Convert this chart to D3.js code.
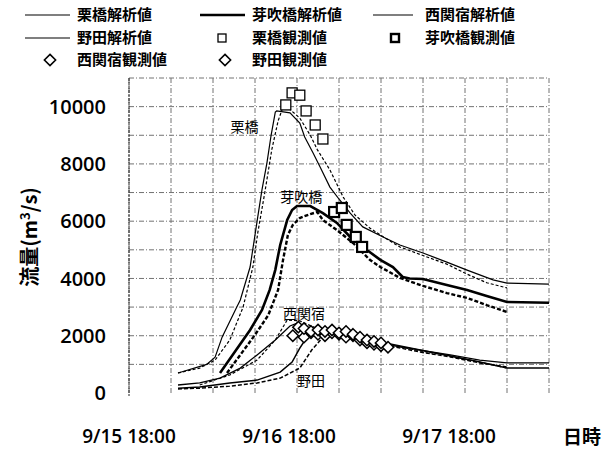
<!DOCTYPE html>
<html>
<head>
<meta charset="utf-8">
<script src="https://cdn.jsdelivr.net/npm/d3@7"></script>
<style>
  body { margin: 0; background: #fff; }
  text { fill: #000; }
</style>
</head>
<body>
<svg id="chart" width="607" height="457"></svg>
<script>
/**
 * @Data  (hours from 9/15 18:00, discharge m3/s)
 */
const kuriCalc    = [[7,700],[11.1,1000],[12.3,1250],[13.3,1950],[15.4,3000],[15.9,3250],[17.3,4400],[18.3,6000],[19,7100],[19.7,8030],[20.3,9000],[20.9,9810],[21.1,9850],[23,9780],[24.4,9430],[25.1,8940],[26.3,8380],[27.3,7890],[28.7,7190],[30.1,6740],[31.6,6280],[33.4,5800],[36.3,5450],[38.7,5170],[42,4890],[45.4,4570],[48.3,4290],[52,3950],[54,3840],[60,3800]]
const kuriCalc2   = [[7,700],[10.1,870],[12.3,1150],[14.4,1850],[16.3,3000],[17.7,4400],[18.4,5600],[19.4,7000],[20.4,8500],[21.3,9500],[22,9990],[23,9900],[24.4,9600],[25.9,9000],[26.9,8500],[28.7,7790],[30.6,6840],[32.3,6210],[34.4,5760],[36.6,5410],[38.7,5100],[42,4800],[45.4,4500],[48.3,4150],[51.1,3850],[54,3670]]
const fukiCalc    = [[13,700],[15.1,1430],[17.3,2200],[19,2900],[20.1,3600],[20.9,4300],[21.6,5170],[22.6,6040],[23.3,6390],[24,6530],[25.9,6530],[27.7,6280],[29.7,5940],[31.6,5450],[33.4,5100],[35.9,4650],[37.7,4400],[39.1,4050],[40.1,4000],[42,3980],[45.4,3770],[48.3,3600],[51.1,3390],[54,3180],[60,3150]]
const fukiCalc2   = [[14,700],[15.9,1330],[18,2030],[19.9,2720],[21.3,3600],[22,4640],[22.7,5520],[23.4,5870],[24.4,6110],[25.9,6250],[26.9,6320],[27.7,6040],[29.7,5690],[32,5240],[34.4,4650],[35.9,4400],[38.7,4020],[42,3740],[45.4,3490],[48.3,3320],[51.1,3070],[54,2830]]
const nishiCalc   = [[7,280],[10.1,350],[13,520],[15.9,870],[18.3,1330],[20.9,1850],[23,2340],[24,2440],[25.1,2340],[27.3,2130],[30.1,1990],[33,1850],[36.6,1710],[41.6,1500],[45.9,1330],[50.1,1150],[54,1050],[60,1050]]
const nishiCalc2  = [[10.1,280],[14.4,630],[18.3,1150],[20.9,1850],[22.6,2550],[24.4,2520],[27.3,2200],[31.6,1960],[36.6,1710],[41.6,1470],[45.9,1290],[50.1,1080],[54,870]]
const nodaCalc    = [[7,170],[10.1,210],[14.4,350],[18.3,450],[21.6,730],[23.3,1080],[24.4,1570],[25.9,2130],[27,2270],[28.7,2200],[31.6,2030],[36.6,1750],[41.6,1500],[45.9,1290],[50.1,1080],[54,870],[60,870]]
const nodaCalc2   = [[7,140],[10.1,170],[14.4,240],[18.3,350],[21.6,520],[24.4,870],[26.1,1500],[27.6,1920],[29.4,2130],[32.3,1960],[36.6,1680],[41.6,1430],[45.9,1260],[50.1,1050],[54,910]]

const kuriObs  = [[22.4,10060],[23.3,10480],[24.4,10400],[25.3,9850],[26.6,9360],[27.7,8870]]
const fukiObs  = [[29.3,6320],[30.4,6460],[31.1,5870],[32.4,5450],[33.3,5100]]
const nishiObs = [[23.4,2000],[24.2,2300],[25,2250],[26,2150],[27,2200],[28,2150],[29,2200],[30,2100],[31,2150],[32,2050],[33,1950],[34,1850],[35,1800],[36,1750]]
const nodaObs  = [[25,1950],[26,2100],[27,2050],[28,2000],[29,2100],[30,2050],[31,1950],[32,2000],[33,1850],[34,1750],[35,1700],[36,1650],[37,1600]]

const yTicks = [0, 2000, 4000, 6000, 8000, 10000]
const xTickHours = [0, 24, 48]
const xTickLabels = ['9/15 18:00', '9/16 18:00', '9/17 18:00']

const stationLabels = [
  { text: '栗橋',   h: 16.5, v: 9300 },
  { text: '芽吹橋', h: 24.6, v: 6850 },
  { text: '西関宿', h: 25,   v: 2750 },
  { text: '野田',   h: 26,   v: 400 }
]

const legendItems = [
  { text: '栗橋解析値',   type: 'line', w: 1.2 },
  { text: '芽吹橋解析値', type: 'line', w: 2.6 },
  { text: '西関宿解析値', type: 'line', w: 1.2 },
  { text: '野田解析値',   type: 'line', w: 1.2 },
  { text: '栗橋観測値',   type: 'square', w: 1.3 },
  { text: '芽吹橋観測値', type: 'square', w: 2.4 },
  { text: '西関宿観測値', type: 'diamond', w: 1.6 },
  { text: '野田観測値',   type: 'diamond', w: 1.6 }
]

/**
 * @Scales
 */
const svg = d3.select('#chart')
const plotLeft = 129, plotRight = 549, plotTop = 78, plotBottom = 393
const x = d3.scaleLinear().domain([0, 60]).range([plotLeft, plotRight])
const y = d3.scaleLinear().domain([0, 11000]).range([plotBottom, plotTop])
// date labels in the figure are spaced a little tighter than the grid
const xLab = d3.scaleLinear().domain([0, 48]).range([plotLeft, plotLeft + 320])

const CJK = '"Noto Sans CJK JP", sans-serif'
const NUM = '"Open Sans", "Noto Sans CJK JP", sans-serif'

/**
 * @Grid
 */
const grid = svg.append('g')
  .attr('stroke', '#444')
  .attr('stroke-width', 1)
  .attr('stroke-dasharray', '5,2,1,2')
  .attr('opacity', 0.75)

grid.selectAll('.hgrid')
  .data(d3.range(1000, 11001, 1000))
  .enter()
  .append('line')
  .attr('x1', plotLeft).attr('x2', plotRight)
  .attr('y1', d => y(d)).attr('y2', d => y(d))

grid.selectAll('.vgrid')
  .data(d3.range(0, 61, 6))
  .enter()
  .append('line')
  .attr('x1', d => x(d)).attr('x2', d => x(d))
  .attr('y1', plotTop).attr('y2', plotBottom + 2)

svg.append('line')
  .attr('x1', plotLeft).attr('x2', plotLeft)
  .attr('y1', plotTop).attr('y2', plotBottom + 3)
  .attr('stroke', '#222')
  .attr('stroke-dasharray', '3,1')

/**
 * @Axes
 */
svg.append('g')
  .selectAll('text')
  .data(yTicks)
  .enter()
  .append('text')
  .attr('x', 106)
  .attr('y', d => y(d))
  .attr('dy', '0.36em')
  .attr('text-anchor', 'end')
  .style('font-family', NUM)
  .style('font-weight', 600)
  .style('font-size', '20px')
  .text(d => d)

svg.append('g')
  .selectAll('text')
  .data(xTickHours)
  .enter()
  .append('text')
  .attr('x', d => xLab(d))
  .attr('y', 443)
  .attr('text-anchor', 'middle')
  .style('font-family', NUM)
  .style('font-weight', 600)
  .style('font-size', '19px')
  .text((d, i) => xTickLabels[i])

svg.append('text')
  .attr('x', 582)
  .attr('y', 444)
  .attr('text-anchor', 'middle')
  .style('font-family', CJK)
  .style('font-weight', 700)
  .style('font-size', '19px')
  .text('日時')

const yTitle = svg.append('text')
  .attr('transform', 'translate(37,237) rotate(-90)')
  .attr('text-anchor', 'middle')
  .style('font-family', CJK)
  .style('font-weight', 700)
  .style('font-size', '20px')
yTitle.append('tspan').text('流量(m')
yTitle.append('tspan').attr('dy', -7).style('font-size', '13px').text('3')
yTitle.append('tspan').attr('dy', 7).text('/s)')

/**
 * @Lines
 */
const line = d3.line().x(d => x(d[0])).y(d => y(d[1]))

const series = [
  { data: kuriCalc,   w: 1.2, dash: null },
  { data: kuriCalc2,  w: 1.2, dash: '3,2' },
  { data: fukiCalc,   w: 2.6, dash: null },
  { data: fukiCalc2,  w: 2.4, dash: '4,2' },
  { data: nishiCalc,  w: 1.3, dash: null },
  { data: nishiCalc2, w: 1.2, dash: '3,2' },
  { data: nodaCalc,   w: 1.5, dash: null },
  { data: nodaCalc2,  w: 1.5, dash: '4,2' }
]

svg.append('g')
  .selectAll('path')
  .data(series)
  .enter()
  .append('path')
  .attr('d', d => line(d.data))
  .attr('fill', 'none')
  .attr('stroke', '#000')
  .attr('stroke-width', d => d.w)
  .attr('stroke-dasharray', d => d.dash)

/**
 * @Markers
 */
const squares = (data, size, w) => svg.append('g')
  .selectAll('rect')
  .data(data)
  .enter()
  .append('rect')
  .attr('x', d => x(d[0]) - size / 2)
  .attr('y', d => y(d[1]) - size / 2)
  .attr('width', size).attr('height', size)
  .attr('fill', '#fff')
  .attr('stroke', '#000')
  .attr('stroke-width', w)

const diamonds = (data, size, w) => svg.append('g')
  .selectAll('path')
  .data(data)
  .enter()
  .append('path')
  .attr('d', d3.symbol(d3.symbolDiamond2, size * size))
  .attr('transform', d => `translate(${x(d[0])},${y(d[1])})`)
  .attr('fill', '#fff')
  .attr('stroke', '#000')
  .attr('stroke-width', w)

diamonds(nodaObs, 9, 1.5)
diamonds(nishiObs, 9, 1.5)
squares(kuriObs, 10, 1.3)
squares(fukiObs, 10, 2.2)

/**
 * @StationLabels
 */
svg.append('g')
  .selectAll('text')
  .data(stationLabels)
  .enter()
  .append('text')
  .attr('x', d => x(d.h))
  .attr('y', d => y(d.v))
  .attr('dy', '0.35em')
  .attr('text-anchor', 'middle')
  .style('font-family', CJK)
  .style('font-size', '14px')
  .text(d => d.text)

/**
 * @Legend
 */
const legendX = [25, 200, 373]
const legendRows = [15, 38, 60]
const legend = svg.append('g')
  .selectAll('g')
  .data(legendItems)
  .enter()
  .append('g')
  .attr('transform', (d, i) => `translate(${legendX[i % 3]},${legendRows[Math.floor(i / 3)]})`)

legend.filter(d => d.type === 'line')
  .append('line')
  .attr('x1', 0).attr('x2', (d, i) => i === 2 ? 40 : 45)
  .attr('stroke', '#000')
  .attr('stroke-width', d => d.w)

legend.filter(d => d.type === 'square')
  .append('rect')
  .attr('x', 18).attr('y', -4)
  .attr('width', 8).attr('height', 8)
  .attr('fill', '#fff')
  .attr('stroke', '#000')
  .attr('stroke-width', d => d.w)

legend.filter(d => d.type === 'diamond')
  .append('path')
  .attr('d', d3.symbol(d3.symbolDiamond2, 80))
  .attr('transform', 'translate(25,0)')
  .attr('fill', '#fff')
  .attr('stroke', '#000')
  .attr('stroke-width', d => d.w)

legend.append('text')
  .attr('x', 52)
  .attr('dy', '0.36em')
  .style('font-family', CJK)
  .style('font-weight', 700)
  .style('font-size', '15px')
  .text(d => d.text)
</script>
</body>
</html>
